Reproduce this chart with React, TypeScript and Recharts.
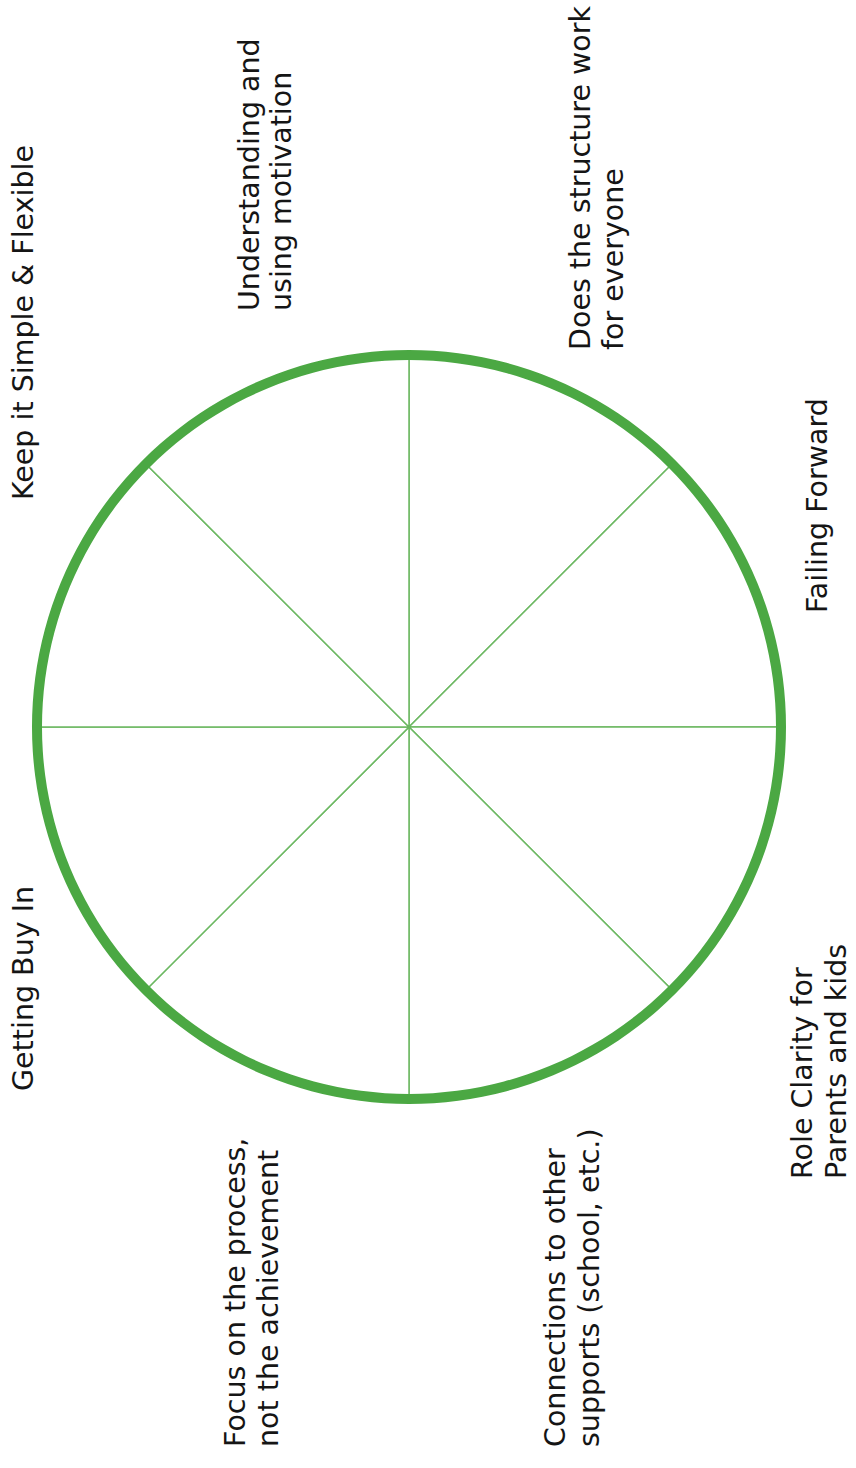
import React from "react";
import { PieChart, Pie, Cell } from "recharts";

// Categories, clockwise from the top spoke
const categories: string[][] = [
  ["Does the structure work", "for everyone"],
  ["Failing Forward"],
  ["Role Clarity for", "Parents and kids"],
  ["Connections to other", "supports (school, etc.)"],
  ["Focus on the process,", "not the achievement"],
  ["Getting Buy In"],
  ["Keep it Simple & Flexible"],
  ["Understanding and", "using motivation"],
];

// Equal weight for each segment of the wheel
const segmentValues: number[] = [1, 1, 1, 1, 1, 1, 1, 1];
const ringValues: number[] = [1];

// Label layout offsets relative to wheel centre (baseline x, start y, line gap)
const labelDx: number[] = [181, 418, 403, 156, -164, -376, -376, -150];
const labelDy: number[] = [-377, -114, 452, 720, 720, 364, -227, -416];
const labelGap: number[] = [33, 33, 34, 34, 33, 33, 33, 32];

const segmentData = categories.map((c, i) => ({ name: c.join(" "), value: segmentValues[i] }));
const ringData = ringValues.map((v, i) => ({ name: "ring" + i, value: v }));

const W = 856;
const H = 1468;
const CX = 409;
const CY = 727;
const R = 372;

const renderLabel = (props: any) => {
  const { cx, cy, index } = props;
  const x = cx + labelDx[index];
  const y = cy + labelDy[index];
  const lines = categories[index];
  return (
    <text
      key={"lbl" + index}
      x={x}
      y={y}
      transform={`rotate(-90 ${x} ${y})`}
      textAnchor="start"
      fontFamily="'DejaVu Sans', sans-serif"
      fontSize={28.5}
      fill="#151515"
    >
      {lines.map((l, j) => (
        <tspan key={j} x={x} dy={j === 0 ? 0 : labelGap[index]}>
          {l}
        </tspan>
      ))}
    </text>
  );
};

export default function App() {
  return (
    <div style={{ position: "absolute", left: 0, top: 0, width: W, height: H }}>
      <PieChart width={W} height={H} margin={{ top: 0, right: 0, bottom: 0, left: 0 }}>
        <Pie
          data={segmentData}
          dataKey="value"
          cx={CX}
          cy={CY}
          startAngle={90}
          endAngle={-270}
          innerRadius={0}
          outerRadius={R}
          fill="#ffffff"
          stroke="#6cb862"
          strokeWidth={1.5}
          label={renderLabel}
          labelLine={false}
          isAnimationActive={false}
        >
          {segmentData.map((d, i) => (
            <Cell key={i} fill="#ffffff" stroke="#6cb862" strokeWidth={1.5} />
          ))}
        </Pie>
        <Pie
          data={ringData}
          dataKey="value"
          cx={CX}
          cy={CY}
          startAngle={90}
          endAngle={-270}
          innerRadius={R - 5}
          outerRadius={R + 5}
          fill="#4ba843"
          stroke="none"
          isAnimationActive={false}
        />
      </PieChart>
    </div>
  );
}
